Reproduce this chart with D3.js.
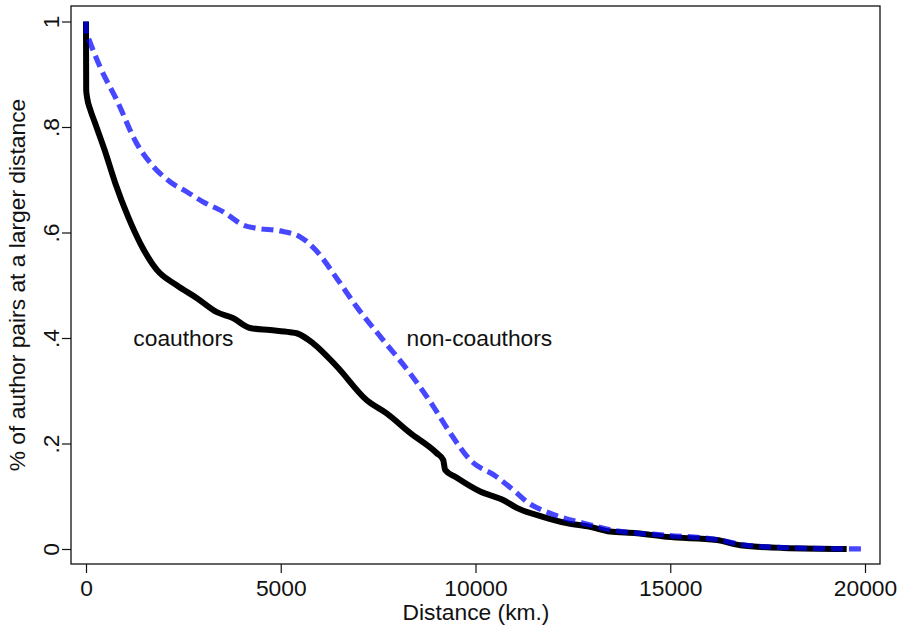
<!DOCTYPE html>
<html>
<head>
<meta charset="utf-8">
<script src="https://cdn.jsdelivr.net/npm/d3@7"></script>
<style>
  body { margin: 0; background: #fff; }
  text { font-family: "Liberation Sans", Arial, Helvetica, sans-serif; fill: #111; }
</style>
</head>
<body>
<div id="chart"></div>
<script>
// share of author pairs farther apart than a given distance
const coauthorDist = [0, 5, 30, 100, 230, 480, 750, 1080, 1390, 1820, 2330, 2840, 3360, 3770, 4210, 4720, 5240, 5410, 5830, 6440, 7210, 7720, 8320, 9000, 9170, 9220, 9500, 10120, 10710, 11060, 11730, 12340, 12940, 13450, 14140, 14910, 16190, 16800, 17900, 19530];
const coauthorShare = [1.0, 0.87, 0.855, 0.835, 0.808, 0.756, 0.694, 0.630, 0.580, 0.529, 0.500, 0.476, 0.449, 0.438, 0.419, 0.415, 0.411, 0.409, 0.390, 0.346, 0.282, 0.257, 0.220, 0.182, 0.169, 0.150, 0.136, 0.109, 0.093, 0.078, 0.061, 0.049, 0.042, 0.033, 0.030, 0.023, 0.017, 0.007, 0.002, 0.0];

const nonCoauthorDist = [0, 5, 80, 360, 790, 1300, 1730, 2160, 2590, 3010, 3530, 4040, 4380, 4980, 5490, 5920, 6440, 6950, 7630, 8320, 8920, 9350, 9860, 10540, 11060, 11310, 11910, 12770, 13500, 14910, 16190, 16870, 17800, 19950];
const nonCoauthorShare = [1.0, 0.98, 0.965, 0.914, 0.851, 0.769, 0.725, 0.696, 0.677, 0.658, 0.639, 0.614, 0.608, 0.603, 0.592, 0.565, 0.513, 0.459, 0.396, 0.333, 0.270, 0.220, 0.169, 0.137, 0.106, 0.090, 0.068, 0.049, 0.036, 0.026, 0.018, 0.008, 0.003, 0.0];

const xTicks = [0, 5000, 10000, 15000, 20000];
const yTicks = [0, 0.2, 0.4, 0.6, 0.8, 1];
const yTickLabels = ["0", ".2", ".4", ".6", ".8", "1"];

const labelNames = ["coauthors", "non-coauthors"];
const labelDist = [2500, 10100];
const labelShare = [0.4, 0.4];

const width = 901;
const height = 627;
const frame = { left: 71, top: 6, right: 880, bottom: 564 };

const svg = d3.select("#chart")
    .append("svg")
    .attr("width", width)
    .attr("height", height);

const x = d3.scaleLinear().domain([0, 20000]).range([86, 865]);
const y = d3.scaleLinear().domain([0, 1]).range([549, 21.5]);

// frame
svg.append("rect")
    .attr("x", frame.left)
    .attr("y", frame.top)
    .attr("width", frame.right - frame.left)
    .attr("height", frame.bottom - frame.top)
    .attr("fill", "none")
    .attr("stroke", "#111")
    .attr("stroke-width", 1.3);

// x axis
const xAxis = svg.append("g")
    .attr("transform", `translate(0,${frame.bottom})`)
    .call(d3.axisBottom(x).tickValues(xTicks).tickFormat(d3.format("d")).tickSize(9));
xAxis.select(".domain").remove();
xAxis.selectAll(".tick line").attr("stroke", "#111").attr("stroke-width", 1.2);
xAxis.selectAll(".tick text")
    .attr("y", 32)
    .attr("dy", 0)
    .attr("font-size", "22.8px")
    .attr("font-family", null)
    .attr("fill", "#111");

// y axis
const yAxis = svg.append("g")
    .attr("transform", `translate(${frame.left},0)`)
    .call(d3.axisLeft(y).tickValues(yTicks).tickFormat((d, i) => yTickLabels[i]).tickSize(9));
yAxis.select(".domain").remove();
yAxis.selectAll(".tick line").attr("stroke", "#111").attr("stroke-width", 1.2);
yAxis.selectAll(".tick text")
    .attr("x", 0)
    .attr("y", 0)
    .attr("dy", 0)
    .attr("transform", "translate(-12,0) rotate(-90)")
    .attr("text-anchor", "middle")
    .attr("font-size", "22.8px")
    .attr("font-family", null)
    .attr("fill", "#111");

// axis titles
svg.append("text")
    .attr("x", 476)
    .attr("y", 620)
    .attr("text-anchor", "middle")
    .attr("font-size", "22.8px")
    .text("Distance (km.)");

svg.append("text")
    .attr("transform", "translate(25,285) rotate(-90)")
    .attr("text-anchor", "middle")
    .attr("font-size", "22.8px")
    .text("% of author pairs at a larger distance");

// lines
const line = d3.line()
    .x(d => x(d[0]))
    .y(d => y(d[1]))
    .curve(d3.curveMonotoneX);

svg.append("path")
    .datum(d3.zip(coauthorDist, coauthorShare))
    .attr("d", line)
    .attr("fill", "none")
    .attr("stroke", "#000")
    .attr("stroke-width", 6)
    .attr("stroke-linejoin", "round");

svg.append("path")
    .datum(d3.zip(nonCoauthorDist, nonCoauthorShare))
    .attr("d", line)
    .attr("fill", "none")
    .attr("stroke", "#0000ff")
    .attr("stroke-opacity", 0.72)
    .attr("stroke-width", 5.2)
    .attr("stroke-dasharray", "12,6");

// in-plot labels
svg.selectAll(".label")
    .data(labelNames)
    .join("text")
    .attr("class", "label")
    .attr("x", (d, i) => x(labelDist[i]))
    .attr("y", (d, i) => y(labelShare[i]))
    .attr("dy", "0.36em")
    .attr("text-anchor", "middle")
    .attr("font-size", "22.8px")
    .text(d => d);
</script>
</body>
</html>
